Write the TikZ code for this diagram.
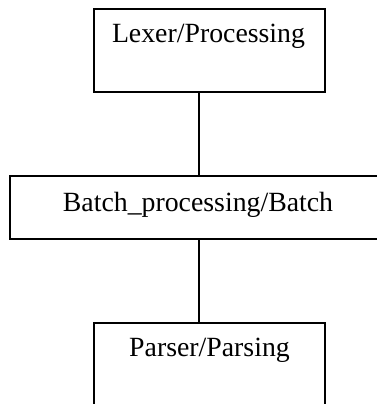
\documentclass[tikz,border=0pt]{standalone}
\usepackage{fontspec}
\setmainfont{Liberation Serif}
\begin{document}
\begin{tikzpicture}[x=1pt,y=1pt,
  box/.style={draw=black, line width=1.5pt, fill=none, inner sep=0pt},
  lbl/.style={anchor=base, inner sep=0pt, font=\fontsize{27.8}{32}\selectfont},
  link/.style={draw=black, line width=1.2pt}]
  \clip (0,0) rectangle (377,404);
  % module boxes
  \node[box, minimum width=231pt, minimum height=83pt] (lexer) at (209.5,353.5) {};
  \node[box, minimum width=378pt, minimum height=63pt] (batch) at (199,196.5) {};
  \node[box, minimum width=231pt, minimum height=83pt] (parser) at (209.5,39.5) {};
  % labels
  \node[lbl] (lexerlbl) at (208.5,361) {Lexer/Processing};
  \node[lbl] (batchlbl) at (198,192) {Batch\_processing/Batch};
  \node[lbl] (parserlbl) at (209.5,47) {Parser/Parsing};
  % connectors
  \draw[link] (lexer.south -| batch.north) -- (batch.north);
  \draw[link] (batch.south) -- (batch.south |- parser.north);
\end{tikzpicture}
\end{document}
